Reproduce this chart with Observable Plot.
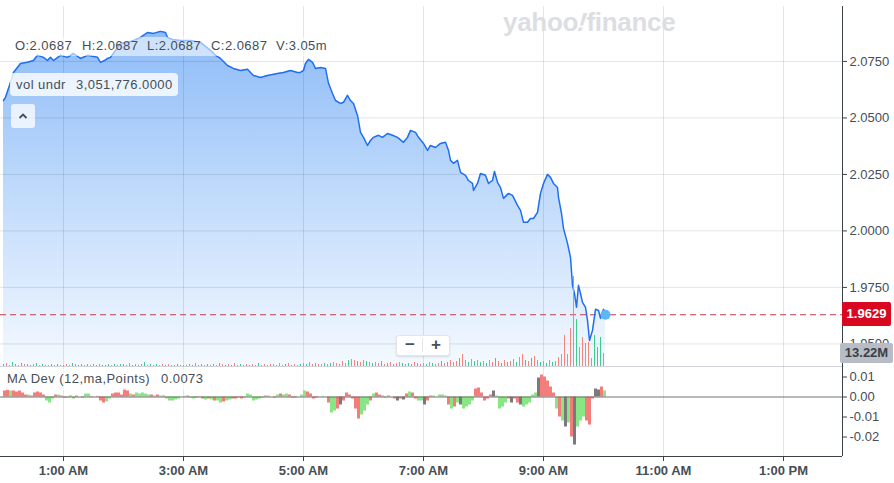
<!DOCTYPE html>
<html><head><meta charset="utf-8">
<script src="https://cdn.jsdelivr.net/npm/d3@7"></script>
<script src="https://cdn.jsdelivr.net/npm/@observablehq/plot@0.6"></script>
<style>
html,body{margin:0;padding:0;background:#fff;}
#wrap{position:relative;width:894px;height:483px;overflow:hidden;font-family:"Liberation Sans",Arial,Helvetica,sans-serif;color:#464e56;}
#wrap svg{position:absolute;left:0;}
.ov{position:absolute;white-space:nowrap;}
.t13{font-size:13px;letter-spacing:0.45px;line-height:16px;}
</style></head><body><div id="wrap"></div>
<script>
// ---------- data ----------
const xTickMinutes = [60, 180, 300, 420, 540, 660, 780];
const xTickLabels = ["1:00 AM", "3:00 AM", "5:00 AM", "7:00 AM", "9:00 AM", "11:00 AM", "1:00 PM"];
const priceTicks = [1.95, 1.975, 2.0, 2.025, 2.05, 2.075];
const maTicks = [0.01, 0, -0.01, -0.02];
const headerLabels = ["O:2.0687", "H:2.0687", "L:2.0687", "C:2.0687", "V:3.05m"];
const volUndrLabel = ["vol undr", "3,051,776.0000"];
const maDevLabel = ["MA Dev (12,ma,Points)", "0.0073"];
const lastPrice = 1.9629;
const lastVolumeM = 13.22;
// [minutes after midnight, price]
const pricePoints = [
 [0,2.0577],[2,2.0591],[6,2.0644],[10,2.0701],[17,2.0741],[24,2.0746],[30,2.0754],[34,2.0777],[40,2.0768],[44,2.0754],
 [47,2.0768],[50,2.0754],[57,2.0777],[64,2.0768],[70,2.0785],[77,2.0763],[84,2.0777],[94,2.0768],[97,2.0746],[101,2.0754],
 [104,2.0763],[107,2.0768],[112,2.0799],[117,2.0830],[124,2.0834],[130,2.0843],[137,2.0856],[144,2.0878],[150,2.0874],[157,2.0883],
 [162,2.0878],[164,2.0856],[169,2.0847],[177,2.0843],[187,2.0843],[197,2.0834],[207,2.0799],[212,2.0777],[217,2.0763],[224,2.0732],
 [230,2.0719],[237,2.0710],[244,2.0715],[247,2.0701],[250,2.0688],[257,2.0679],[264,2.0688],[274,2.0697],[280,2.0701],[287,2.0710],
 [294,2.0701],[297,2.0701],[300,2.0710],[302,2.0741],[305,2.0759],[309,2.0746],[312,2.0719],[317,2.0723],[322,2.0719],[325,2.0653],
 [329,2.0608],[332,2.0577],[337,2.0564],[340,2.0569],[344,2.0600],[347,2.0577],[350,2.0564],[354,2.0511],[357,2.0436],[360,2.0414],
 [364,2.0378],[367,2.0400],[370,2.0414],[375,2.0423],[379,2.0414],[384,2.0431],[389,2.0423],[394,2.0414],[400,2.0392],[404,2.0414],
 [407,2.0445],[412,2.0436],[415,2.0414],[420,2.0387],[424,2.0356],[427,2.0378],[432,2.0369],[437,2.0387],[442,2.0392],[445,2.0356],
 [447,2.0312],[450,2.0299],[454,2.0312],[457,2.0259],[462,2.0246],[465,2.0223],[469,2.0210],[470,2.0179],[474,2.0210],[477,2.0254],
 [482,2.0246],[485,2.0210],[489,2.0223],[491,2.0263],[494,2.0215],[497,2.0192],[500,2.0144],[505,2.0166],[509,2.0157],[514,2.0113],
 [517,2.0091],[520,2.0038],[524,2.0038],[527,2.0055],[530,2.0055],[534,2.0082],[537,2.0166],[540,2.0210],[544,2.0250],[547,2.0237],
 [550,2.0210],[554,2.0192],[555,2.0148],[558,2.0077],[560,2.0011],[564,1.9945],[567,1.9883],[569,1.9759],[571,1.9723],[573,1.9662],
 [575,1.9759],[577,1.9723],[579,1.9684],[582,1.9662],[584,1.9604],[586,1.9515],[589,1.9560],[592,1.9653],[595,1.9648],[597,1.9613],
 [600,1.9653],[602,1.9629]
];
// volume (millions), one bar every 3 minutes from midnight
const volValues = [
 2,3,1,4,2,1,3,2,2,1,  2,3,1,2,1,1,2,1,2,1,  1,2,1,3,2,1,2,1,2,1,  2,1,2,1,1,2,1,2,1,2,
 2,1,3,1,2,1,2,4,1,2,  1,2,1,2,1,2,1,1,2,1,  1,1,2,1,3,1,2,1,2,1,  2,1,3,2,1,2,1,3,1,2,
 1,2,1,2,1,3,1,2,1,2,  2,1,3,1,2,3,1,2,1,2,  3,2,4,2,3,2,2,3,2,3,  4,3,2,5,3,6,7,6,5,4,
 6,5,4,3,4,3,5,2,3,4,  2,3,4,3,2,3,2,4,3,2,  3,2,4,3,2,3,5,3,4,6,  4,5,8,12,6,4,7,5,6,4,
 5,3,6,4,8,5,3,6,4,5,  7,4,9,12,6,5,8,10,6,4,  5,3,6,4,5,9,12,31,12,38,  90,47,19,29,23,24,8,31,19,29,13
];
const volColors = [
 "grgggrgrgg","rgrgrrgrgr","grrgrggrgr","rgrgggrgrg","grrgrgrgrg","rgrrgrgrgg","rgrgrrgrgr","rrgrgrgrrg",
 "grgrrgrrgr","rgrrgrgrrg","rgrrgrrgrg","rrgrrgrrgr","rgrgrrgrgr","grrgrgrrgr","rgrgrrgrgr","rrgrrgrgrg",
 "rgrrgrgrgr","rgrrgrgrrg","rgrgrrrrrr","rgrrrrrgggr"
].join("");
// MA deviation, one bar every 3 minutes from midnight
const maValues = [
 0.003,0.0035,0.003,0.003,0.0025,0.003,0.002, 0.001,0.001,0.0005, 0.002,0.0025,0.002,0.001, -0.002,-0.003,-0.001,
 0.001,0.001,0.0005, -0.0005,-0.0005, 0.0005,-0.001,0.0005,0,-0.0005, 0.0015,0.0015, 0.0003,0,0.0003,
 -0.002,-0.003,-0.0025,-0.001, 0.0015,0.002,0.002,0.001, 0.004,0.003, 0.0015,0.001, 0.002,0.0015,0.002,0.0015,0.001,
 0.001,0.0005,0.001,0.0005,0.0005, -0.001,-0.002,-0.002,-0.0015,-0.001, 0,0.0003, 0.0005,-0.0005,-0.001,-0.0005,0.0003,
 -0.001,-0.0015,-0.001,-0.0015, -0.002,-0.002,-0.003,-0.0025,-0.002,-0.0015,-0.001, -0.001,-0.0005,-0.001,-0.0005,
 0.0015,0.001, -0.002,-0.0015,-0.001,-0.0005, 0.0005,0.0005,0,-0.0005, 0.001,0.0015,0.001,0.0015,0.001,
 -0.0005,-0.0005,0,0.001, 0.003,0.0025,0.0015, -0.001,-0.0005, 0,0.0003,0, -0.003,-0.008,-0.007,-0.006, -0.004,-0.002,
 0.002,0.001, -0.001, -0.006,-0.011,-0.009,-0.007,-0.004, -0.002, 0.0015,0.002,0.001, 0.0005,-0.0005,0.0005,0,
 -0.001,-0.002,-0.001,-0.0015, 0.0015,0.0025,0.002, -0.001,-0.002, -0.002,-0.004,-0.002, 0.0005,0.0005,0,
 0.001,0.001,0.0005, -0.004,-0.006,-0.005,-0.003, -0.004,-0.006,-0.005,-0.004,-0.002, 0.004,0.0045,0.002,
 -0.002,-0.001, 0.001,0.003, 0.0005, -0.006,-0.005,-0.003, -0.001,-0.003,-0.001, -0.003,-0.004,-0.005,-0.004,-0.003,
 0.001,0.002, 0.0095, 0.011,0.010,0.008, 0.005,0.002, -0.006,-0.010,-0.012, -0.015,-0.013, -0.020,-0.024,
 -0.015,-0.012,-0.010,-0.012, -0.014, -0.001, 0.004,0.0035, 0.005,0.003
];
const maColors = [
 "rrgrrrr","rgr","rrrr","ggg","rgr","rg","rgrgr","gg","rgr","rrgg","rrrr","rr","gr","ggggg","rgrgr","ggggg","rg",
 "rggrg","rgrg","rggrggr","rgrg","gg","gggg","rgrr","grggr","rrrg","grr","rr","rgr","rggr","kr","rr","r","rrggg","r",
 "grr","rgrg","rkrk","rgr","rg","gkr","rgr","ggg","rgrg","kgggg","rrr","rr","rk","g","ggg","rkr","rkggg","gg","k",
 "rrr","rr","grg","kg","rk","gggr","r","r","kk","rg"
].join("");

// ---------- layout / style ----------
const FONT = '"Liberation Sans", Arial, Helvetica, sans-serif';
const W = 894, RIGHT = 52, PRICE_H = 366, MA_H = 117;
const X_DOMAIN = [-3, 839];
const PRICE_Y = [1.94, 2.0993];
const VOL_Y = [0, 360];
const MA_Y = [-0.02975, 0.01525];
const GRID = "#1e2a3c", GRID_OP = 0.12, AXIS = "#3c4148";
const VOL_COL = {r: "#f3857b", g: "#3fcb8b"};
const MA_COL = {r: "#f47d7c", g: "#88e684", k: "#7a7a7a"};
const baseStyle = {background: "transparent", fontFamily: FONT, fontSize: "13px", color: "#464e56", overflow: "visible"};

const wrap = document.getElementById("wrap");
const price = pricePoints.map(([m, p]) => ({m, p}));
const vol = volValues.map((v, i) => ({m: i * 3, v, c: volColors[i] || "r"}));
const ma = maValues.map((v, i) => ({m: i * 3, m2: i * 3 + 3, v, c: maColors[i] || "r"}));

function gradDefs() {
  const defs = document.createElementNS("http://www.w3.org/2000/svg", "defs");
  defs.innerHTML = '<linearGradient id="priceGrad" gradientUnits="userSpaceOnUse" x1="0" y1="28" x2="0" y2="366">' +
    '<stop offset="0" stop-color="#8dbbf7"/><stop offset="0.45" stop-color="#bcd8fb"/><stop offset="1" stop-color="#f4f9ff"/></linearGradient>';
  return defs;
}

const pricePlot = Plot.plot({
  width: W, height: PRICE_H, marginTop: 6, marginBottom: 0, marginLeft: 0, marginRight: RIGHT,
  style: baseStyle,
  x: {domain: X_DOMAIN, axis: null},
  y: {domain: PRICE_Y, axis: null},
  marks: [
    gradDefs,
    Plot.areaY(price, {x: "m", y1: () => PRICE_Y[0], y2: "p", fill: "url(#priceGrad)"}),
    Plot.gridX(xTickMinutes, {stroke: GRID, strokeOpacity: GRID_OP}),
    Plot.gridY(priceTicks, {stroke: GRID, strokeOpacity: GRID_OP}),
    Plot.ruleY([PRICE_Y[0]], {stroke: "#cfd2d8"}),
    Plot.ruleY([lastPrice], {stroke: "#c63c4c", strokeDasharray: "6,4"}),
    Plot.line(price, {x: "m", y: "p", stroke: "#1f6ff0", strokeWidth: 1.5}),
    Plot.dot([price[price.length - 1]], {x: "m", y: "p", r: 5, fill: "#5db6f8"}),
    Plot.ruleX([X_DOMAIN[1]], {stroke: AXIS}),
    Plot.axisY(priceTicks, {anchor: "right", label: null, tickSize: 4, tickPadding: 3, stroke: AXIS, tickFormat: d => d.toFixed(4)})
  ]
});
pricePlot.style.top = "0px";
wrap.appendChild(pricePlot);

const volPlot = Plot.plot({
  width: W, height: PRICE_H, marginTop: 6, marginBottom: 0, marginLeft: 0, marginRight: RIGHT,
  style: baseStyle,
  x: {domain: X_DOMAIN, axis: null},
  y: {domain: VOL_Y, axis: null},
  marks: [
    Plot.ruleX(vol, {x: "m", y1: () => 0, y2: "v", stroke: d => VOL_COL[d.c], strokeWidth: 1})
  ]
});
volPlot.style.top = "0px";
wrap.appendChild(volPlot);

const maPlot = Plot.plot({
  width: W, height: MA_H, marginTop: 0, marginBottom: 27, marginLeft: 0, marginRight: RIGHT,
  style: baseStyle,
  x: {domain: X_DOMAIN, axis: null},
  y: {domain: MA_Y, axis: null},
  marks: [
    Plot.gridX(xTickMinutes, {stroke: GRID, strokeOpacity: GRID_OP}),
    Plot.rect(ma, {x1: "m", x2: "m2", y1: () => 0, y2: "v", fill: d => MA_COL[d.c]}),
    Plot.ruleY([0], {stroke: "#707070"}),
    Plot.ruleY([MA_Y[0]], {stroke: AXIS}),
    Plot.ruleX([X_DOMAIN[1]], {stroke: AXIS}),
    Plot.axisY(maTicks, {anchor: "right", label: null, tickSize: 4, tickPadding: 3, stroke: AXIS, tickFormat: d => d.toFixed(2)}),
    Plot.axisX(xTickMinutes, {anchor: "bottom", label: null, tickSize: 5, tickPadding: 4, stroke: AXIS, fontWeight: "bold",
      tickFormat: (d) => xTickLabels[xTickMinutes.indexOf(d)]})
  ]
});
maPlot.style.top = PRICE_H + "px";
wrap.appendChild(maPlot);

// ---------- HTML overlays ----------
function ov(html, css) {
  const d = document.createElement("div");
  d.className = "ov";
  d.innerHTML = html;
  Object.assign(d.style, css);
  wrap.appendChild(d);
  return d;
}
// watermark
ov('yahoo<span style="display:inline-block;transform:skewX(-18deg)">!</span>finance',
  {left: "503px", top: "7px", fontSize: "26px", fontWeight: "bold", color: "#dcdee3", letterSpacing: "-0.3px"});
// OHLC header strip
ov("", {left: "12px", top: "37px", width: "320px", height: "19px", background: "rgba(255,255,255,0.55)"});
const headerX = [15, 82, 147, 211, 276];
headerLabels.forEach((t, i) => ov(t, {left: headerX[i] + "px", top: "38px"}).classList.add("t13"));
// vol undr box
ov("", {left: "10px", top: "73px", width: "168px", height: "23px", background: "rgba(255,255,255,0.8)", borderRadius: "4px"});
ov(volUndrLabel[0], {left: "16px", top: "77px"}).classList.add("t13");
ov(volUndrLabel[1], {left: "76px", top: "77px"}).classList.add("t13");
// collapse button
ov('<svg width="24" height="24" style="position:static"><polyline points="8.5,14 12,10.5 15.5,14" fill="none" stroke="#464e56" stroke-width="1.8"/></svg>',
  {left: "11px", top: "104px", width: "24px", height: "24px", background: "rgba(255,255,255,0.75)", borderRadius: "3px"});
// zoom control
ov('<span style="position:absolute;left:0;width:26px;text-align:center;top:-1px">\u2212</span><span style="position:absolute;left:25px;top:2px;width:1px;height:14px;background:#e3e5e9"></span><span style="position:absolute;left:26px;width:26px;text-align:center;top:-1px">+</span>',
  {left: "396px", top: "335px", width: "52px", height: "19px", background: "#fff", border: "1px solid #e4e6ea", borderRadius: "3px",
   boxShadow: "0 1px 2px rgba(0,0,0,0.12)", fontSize: "17px", fontWeight: "bold", color: "#4a5058", lineHeight: "19px"});
// MA Dev label
ov("", {left: "4px", top: "369px", width: "214px", height: "21px", background: "rgba(255,255,255,0.6)"});
ov(maDevLabel[0], {left: "7px", top: "371px"}).classList.add("t13");
ov(maDevLabel[1], {left: "161px", top: "371px"}).classList.add("t13");
// last price tag
const yPrice = pricePlot.scale("y").apply(lastPrice);
ov(lastPrice.toFixed(4), {left: "842px", top: (yPrice - 12) + "px", width: "49px", height: "24px", lineHeight: "24px", textAlign: "center",
  background: "#d7081f", color: "#fff", fontWeight: "bold", fontSize: "13px", borderRadius: "2px"});
// last volume tag (covers the lower part of the 1.9500 tick label, as in the original)
const yVol = volPlot.scale("y").apply(lastVolumeM);
ov(lastVolumeM.toFixed(2) + "M", {left: "840px", top: (yVol - 10) + "px", width: "53px", height: "20px", lineHeight: "20px", textAlign: "center",
  background: "#b8bcc4", color: "#3a3f47", fontWeight: "bold", fontSize: "13px", borderRadius: "2px"});
</script></body></html>
